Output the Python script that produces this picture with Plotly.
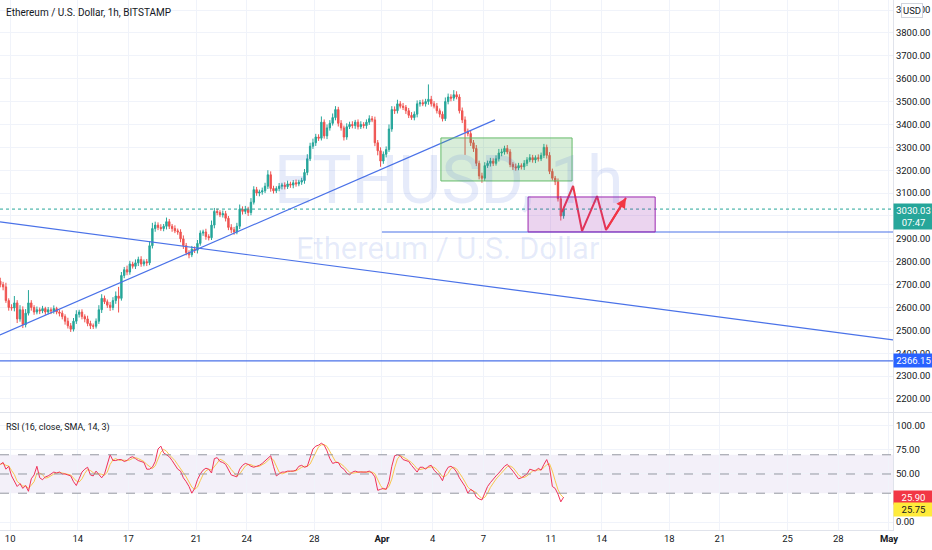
import pandas as pd
import plotly.graph_objects as go
from plotly.subplots import make_subplots

first_bar = "2022-03-09 10:00"
first_open = 2715

closes = [
    2700, 2690, 2630, 2600, 2598, 2620, 2550, 2590, 2525, 2575,
    2620, 2600, 2580, 2590, 2585, 2595, 2580, 2590, 2585, 2595,
    2580, 2575, 2560, 2540, 2520, 2505, 2540, 2570, 2580, 2560,
    2550, 2530, 2520, 2518, 2540, 2590, 2640, 2625, 2610, 2600,
    2630, 2650, 2640, 2740, 2765, 2755, 2790, 2780, 2795, 2810,
    2790, 2800, 2795, 2870, 2945, 2960, 2950, 2945, 2955, 2975,
    2955, 2945, 2935, 2930, 2900, 2870, 2840, 2830, 2855, 2850,
    2880, 2925, 2930, 2910, 2905, 2960, 3020, 3015, 3005, 3010,
    2990, 2950, 2940, 2930, 2955, 3030, 3020, 3030, 3015, 3060,
    3115, 3100, 3105, 3110, 3130, 3180, 3120, 3110, 3120, 3130,
    3135, 3128, 3140, 3135, 3145, 3140, 3148, 3155, 3190, 3250,
    3305, 3320, 3345, 3340, 3410, 3350, 3385, 3405, 3430, 3465,
    3405, 3385, 3345, 3390, 3400, 3395, 3410, 3390, 3400, 3395,
    3410, 3425, 3420, 3320, 3285, 3240, 3270, 3290, 3380, 3465,
    3460, 3490, 3480, 3475, 3460, 3440, 3430, 3445, 3490, 3495,
    3490, 3500, 3510, 3490, 3480, 3460, 3445, 3425, 3500, 3520,
    3515, 3530, 3520, 3460, 3420, 3370, 3360, 3320, 3295, 3230,
    3175, 3165, 3220, 3230, 3240, 3230, 3250, 3275, 3280, 3295,
    3280, 3225, 3215, 3210, 3220, 3215, 3230, 3245, 3255, 3245,
    3255, 3250, 3265, 3300, 3265, 3195, 3165, 3150, 3075, 3000,
    3030.03,
]

up_wick = [
    15, 12, 18, 10, 14, 30, 12, 20, 15, 18,
    56, 12, 10, 14, 10, 12, 8, 12, 10, 14,
    8, 10, 12, 10, 15, 12, 14, 18, 10, 12,
    10, 14, 12, 10, 12, 20, 18, 12, 10, 14,
    15, 20, 40, 15, 12, 18, 14, 10, 15, 12,
    14, 10, 12, 20, 25, 15, 12, 14, 10, 18,
    12, 10, 14, 10, 12, 15, 12, 10, 14, 12,
    15, 12, 10, 14, 10, 20, 15, 12, 10, 14,
    12, 10, 14, 12, 15, 20, 12, 14, 10, 18,
    15, 12, 10, 14, 15, 20, 15, 12, 10, 14,
    10, 12, 14, 10, 12, 14, 10, 12, 15, 20,
    15, 18, 14, 12, 25, 12, 15, 14, 18, 15,
    12, 14, 10, 15, 12, 14, 10, 12, 14, 10,
    12, 15, 12, 14, 12, 15, 12, 14, 20, 15,
    14, 18, 12, 14, 10, 12, 14, 12, 15, 12,
    14, 12, 65, 15, 12, 14, 10, 12, 18, 15,
    12, 20, 15, 12, 14, 15, 12, 14, 12, 15,
    12, 14, 15, 12, 14, 12, 15, 18, 14, 12,
    15, 12, 10, 14, 12, 10, 14, 12, 15, 12,
    10, 14, 12, 15, 12, 14, 12, 10, 14, 12,
    10,
]

down_wick = [
    12, 15, 10, 14, 12, 15, 18, 12, 15, 12,
    10, 14, 12, 10, 14, 10, 12, 10, 14, 12,
    10, 14, 12, 15, 12, 12, 10, 12, 14, 12,
    15, 12, 14, 12, 10, 12, 14, 10, 12, 15,
    12, 14, 62, 10, 12, 14, 12, 10, 12, 14,
    12, 10, 14, 10, 12, 14, 12, 10, 12, 14,
    12, 14, 10, 12, 15, 14, 12, 15, 10, 12,
    14, 10, 12, 14, 12, 10, 14, 12, 10, 12,
    14, 12, 15, 12, 10, 12, 14, 12, 15, 12,
    10, 12, 14, 12, 10, 12, 14, 12, 10, 12,
    14, 12, 10, 12, 14, 12, 10, 12, 14, 12,
    10, 12, 14, 12, 10, 12, 14, 12, 10, 12,
    14, 12, 15, 12, 10, 12, 14, 12, 10, 12,
    14, 12, 10, 15, 20, 25, 12, 14, 10, 12,
    14, 12, 10, 12, 14, 12, 10, 12, 14, 12,
    10, 12, 14, 12, 10, 12, 14, 12, 10, 12,
    14, 12, 10, 12, 14, 103, 12, 14, 15, 12,
    15, 20, 12, 10, 14, 12, 10, 12, 14, 12,
    10, 12, 14, 12, 10, 12, 14, 12, 10, 12,
    14, 12, 10, 12, 14, 12, 10, 15, 12, 20,
    12,
]

rsi_vals = [
    60, 62, 55, 58, 48, 42, 37, 40, 35, 38,
    32, 45, 49, 58, 46, 44, 47, 48, 50, 52,
    51, 52, 50, 50, 49, 48, 42, 38, 45, 52,
    55, 57, 49, 48, 53, 50, 46, 50, 60, 70,
    64, 64, 65, 65, 63, 64, 67, 68, 66, 64,
    63, 62, 55, 55, 57, 63, 76, 79, 72, 70,
    68, 64, 60, 55, 53, 46, 42, 37, 30, 35,
    44, 50, 54, 56, 55, 51, 66, 67, 63, 62,
    60, 55, 49, 48, 47, 55, 59, 61, 60, 58,
    57, 58, 59, 61, 64, 67, 69, 58, 48, 50,
    52, 52, 53, 53, 53, 54, 58, 59, 57, 58,
    66, 76, 79, 80, 82, 80, 74, 66, 61, 62,
    62, 57, 55, 51, 49, 52, 53, 52, 52, 52,
    52, 53, 51, 47, 33, 34, 35, 34, 42, 58,
    69, 70, 69, 65, 64, 63, 59, 55, 52, 57,
    57, 55, 58, 59, 54, 51, 48, 43, 52, 57,
    58, 56, 52, 46, 42, 37, 30, 34, 32, 26,
    24, 23, 30, 37, 41, 45, 48, 51, 55, 58,
    60, 57, 53, 49, 45, 46, 48, 50, 55, 54,
    53, 56, 54, 60, 65, 57, 37, 35, 29, 21,
    25.9,
]
rsi_last = 25.90
rsi_ma_last = 25.75

last_price = 3030.03
countdown = "07:47"
level_price = 2366.15

# drawings: (start time, start price, end time, end price)
trend_lines = [
    ("2022-03-09 09:36", 2480, "2022-04-07 16:30", 3420),
    ("2022-03-09 09:36", 2974, "2022-05-01 05:45", 2458),
    ("2022-04-01 00:00", 2930, "2022-05-01 05:45", 2930),
]
green_box = ("2022-04-04 11:45", 3153, "2022-04-12 06:00", 3341)
purple_box = ("2022-04-09 15:30", 2930, "2022-04-17 04:00", 3083)
zigzag_t = ["2022-04-11 15:36", "2022-04-12 07:26", "2022-04-12 20:10",
            "2022-04-13 17:31", "2022-04-14 06:14", "2022-04-15 10:34"]
zigzag_p = [3017, 3131, 2934, 3087, 2939, 3079]

tick_dates = ["2022-03-10", "2022-03-14", "2022-03-17", "2022-03-21", "2022-03-24",
              "2022-03-28", "2022-04-01", "2022-04-04", "2022-04-07", "2022-04-11",
              "2022-04-14", "2022-04-18", "2022-04-21", "2022-04-25", "2022-04-28",
              "2022-05-01"]
tick_text = ["10", "14", "17", "21", "24", "28", "<b>Apr</b>", "4", "7", "11",
             "14", "18", "21", "25", "28", "<b>May</b>"]
price_ticks = [2200, 2300, 2400, 2500, 2600, 2700, 2800, 2900, 3000,
               3100, 3200, 3300, 3400, 3500, 3600, 3700, 3800, 3900]
rsi_ticks = [0, 50, 75, 100]

x_range = ["2022-03-09 09:36", "2022-05-01 05:45"]
FONT = "Roboto, Open Sans, sans-serif"
NARROW = "Liberation Sans Narrow, Roboto, sans-serif"
TXT = "#131722"
GRID = "#f0f3fa"
BLUE = "#4a72e8"
WATERMARK = "rgba(60,100,220,0.13)"

times = pd.date_range(first_bar, periods=len(closes), freq="4h")
opens = [first_open] + closes[:-1]
highs = [max(o, c) + w for o, c, w in zip(opens, closes, up_wick)]
lows = [min(o, c) - w for o, c, w in zip(opens, closes, down_wick)]
rsi_ma = pd.Series(rsi_vals).rolling(3, min_periods=1).mean()

fig = make_subplots(rows=2, cols=1, shared_xaxes=True, vertical_spacing=0.002)

fig.add_trace(go.Candlestick(
    x=times, open=opens, high=highs, low=lows, close=closes,
    increasing=dict(line=dict(color="#26a69a", width=1), fillcolor="#26a69a"),
    decreasing=dict(line=dict(color="#ef5350", width=1), fillcolor="#ef5350"),
    whiskerwidth=0, hoverinfo="skip", showlegend=False,
), row=1, col=1)

fig.add_trace(go.Scatter(
    x=zigzag_t, y=zigzag_p, mode="lines",
    line=dict(color="#f23645", width=2), hoverinfo="skip", showlegend=False,
), row=1, col=1)

fig.add_trace(go.Scatter(
    x=times, y=rsi_ma, mode="lines",
    line=dict(color="#f9c74f", width=1), hoverinfo="skip", showlegend=False,
), row=2, col=1)
fig.add_trace(go.Scatter(
    x=times, y=rsi_vals, mode="lines",
    line=dict(color="#f0325a", width=1), hoverinfo="skip", showlegend=False,
), row=2, col=1)

shapes = []
# rsi band
shapes.append(dict(type="rect", xref="paper", yref="y2", x0=0, x1=1, y0=30, y1=70,
                   fillcolor="rgba(126,87,194,0.09)", line_width=0, layer="below"))
for lvl in (70, 50, 30):
    shapes.append(dict(type="line", xref="paper", yref="y2", x0=0, x1=1, y0=lvl, y1=lvl,
                       line=dict(color="#9598a1", width=1, dash="dash")))
# current price and level lines
shapes.append(dict(type="line", xref="paper", yref="y", x0=0, x1=1,
                   y0=last_price, y1=last_price,
                   line=dict(color="#26a69a", width=1, dash="dot")))
shapes.append(dict(type="line", xref="paper", yref="y", x0=0, x1=1,
                   y0=level_price, y1=level_price, line=dict(color=BLUE, width=1.3)))
for t0, p0, t1, p1 in trend_lines:
    shapes.append(dict(type="line", xref="x", yref="y", x0=t0, y0=p0, x1=t1, y1=p1,
                       line=dict(color=BLUE, width=1.2)))
g = green_box
shapes.append(dict(type="rect", xref="x", yref="y", x0=g[0], y0=g[1], x1=g[2], y1=g[3],
                   fillcolor="rgba(76,175,80,0.22)", line=dict(color="#66bb6a", width=1)))
pb = purple_box
shapes.append(dict(type="rect", xref="x", yref="y", x0=pb[0], y0=pb[1], x1=pb[2], y1=pb[3],
                   fillcolor="rgba(156,39,176,0.2)", line=dict(color="#9c27b0", width=1)))
# pane divider
shapes.append(dict(type="line", xref="paper", yref="paper", x0=0, x1=1.05,
                   y0=0.2217, y1=0.2217, line=dict(color="#e0e3eb", width=1)))

annotations = [
    dict(xref="paper", yref="paper", x=0.004, y=0.977, xanchor="left", yanchor="middle",
         text="Ethereum / U.S. Dollar, 1h, BITSTAMP", showarrow=False,
         font=dict(family=NARROW, size=10, color=TXT)),
    dict(xref="paper", yref="paper", x=0.004, y=0.1925, xanchor="left", yanchor="middle",
         text="RSI (16, close, SMA, 14, 3)", showarrow=False,
         font=dict(family=NARROW, size=9, color=TXT)),
    dict(xref="paper", yref="paper", x=0.502, y=0.66, xanchor="center", yanchor="middle",
         text="ETHUSD, 1h", showarrow=False,
         font=dict(family=NARROW, size=66, color=WATERMARK)),
    dict(xref="paper", yref="paper", x=0.502, y=0.532, xanchor="center", yanchor="middle",
         text="Ethereum / U.S. Dollar", showarrow=False,
         font=dict(family=FONT, size=31, color=WATERMARK)),
    dict(x=zigzag_t[-1], y=zigzag_p[-1], ax=zigzag_t[-2], ay=zigzag_p[-2],
         xref="x", yref="y", axref="x", ayref="y", text="", showarrow=True,
         arrowhead=2, arrowsize=1, arrowwidth=2, arrowcolor="#f23645"),
    dict(xref="paper", yref="y", x=1, y=last_price, xanchor="left", yanchor="top",
         yshift=6, text=f"{last_price:.2f}<br>{countdown}", showarrow=False,
         bgcolor="#26a69a", width=37, borderpad=1,
         font=dict(family=FONT, size=9.5, color="white")),
    dict(xref="paper", yref="y", x=1, y=level_price, xanchor="left", yanchor="middle",
         text=f"{level_price:.2f}", showarrow=False, bgcolor="#2962ff",
         width=37, borderpad=1, font=dict(family=FONT, size=9.5, color="white")),
    dict(xref="paper", yref="y", x=1, y=3900, xanchor="left", yanchor="middle",
         xshift=8, text="USD", showarrow=False, bgcolor="white", bordercolor="#d1d4dc",
         borderwidth=1, borderpad=1, font=dict(family=FONT, size=9.5, color=TXT)),
    dict(xref="paper", yref="y2", x=1, y=rsi_last, xanchor="left", yanchor="middle",
         text=f"{rsi_last:.2f}", showarrow=False, bgcolor="#f23645",
         width=37, borderpad=1, font=dict(family=FONT, size=9.5, color="white")),
    dict(xref="paper", yref="y2", x=1, y=rsi_ma_last, xanchor="left", yanchor="middle",
         yshift=-12, text=f"{rsi_ma_last:.2f}", showarrow=False,
         bgcolor="#ffeb3b", width=37, borderpad=1,
         font=dict(family=FONT, size=9.5, color=TXT)),
]

fig.update_layout(
    width=932, height=550,
    margin=dict(l=0, r=39, t=0, b=20),
    paper_bgcolor="white", plot_bgcolor="white",
    hovermode=False, showlegend=False,
    font=dict(family=FONT, size=9.5, color=TXT),
    shapes=shapes, annotations=annotations,
    xaxis=dict(range=x_range, rangeslider=dict(visible=False), showticklabels=False,
               tickvals=tick_dates, showgrid=True, gridcolor=GRID, zeroline=False),
    xaxis2=dict(range=x_range, tickvals=tick_dates, ticktext=tick_text,
                showgrid=True, gridcolor=GRID, showline=True, linecolor="#e0e3eb",
                ticks="", tickfont=dict(size=9.5, color=TXT), zeroline=False),
    yaxis=dict(domain=[0.2226, 1], range=[2143, 3944], side="right",
               tickvals=price_ticks, tickformat=".2f", showgrid=True, gridcolor=GRID,
               showline=True, linecolor="#e0e3eb", ticks="", zeroline=False,
               tickfont=dict(size=9.5, color=TXT)),
    yaxis2=dict(domain=[0, 0.2208], range=[-8.3, 113.5], side="right",
                tickvals=rsi_ticks, tickformat=".2f", showgrid=True, gridcolor=GRID,
                showline=True, linecolor="#e0e3eb", ticks="", zeroline=False,
                tickfont=dict(size=9.5, color=TXT)),
)

# the page body has a default 8px margin; drop it so the figure fills the window
fig.write_html("out.html", config={"displayModeBar": False},
               post_script="document.body.style.margin='0';")
